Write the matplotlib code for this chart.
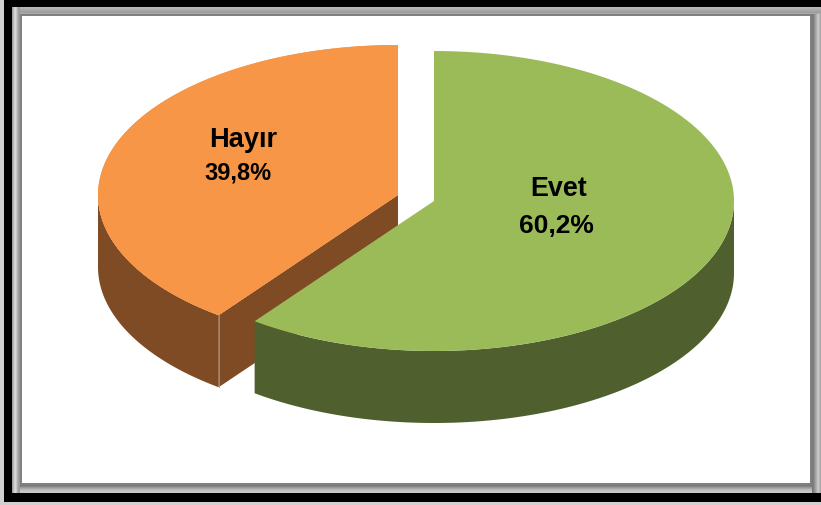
import numpy as np
import matplotlib
matplotlib.use("Agg")
import matplotlib.pyplot as plt
from matplotlib.patches import Rectangle

labels = ["Evet", "Hayır"]
shares = [60.2, 39.8]
value_labels = ["60,2%", "39,8%"]
top_colors = ["#9BBB59", "#F79646"]
side_colors = ["#4F5F2D", "#7F4B24"]

top_band = ["#B8B8B8", "#B4B4B4", "#ACACAC", "#A8A8A8", "#A0A0A0", "#A0A0A0", "#A8A8A8"]
left_band = ["#A0A0A0", "#B8B8B8", "#D0D0D0", "#D8D8D8", "#C8C8C8", "#B0B0B0", "#A0A0A0", "#989898"]
right_band = ["#787878", "#808080", "#909090", "#A0A0A0", "#B0B0B0", "#C0C0C0", "#C8C8C8", "#B8B8B8", "#A8A8A8"]
bottom_band = ["#787878", "#888888", "#989898", "#A8A8A8", "#B8B8B8", "#C0C0C0", "#C8C8C8", "#C8C8C8"]

RX, RY, DEPTH = 300, 150, 72


def ring(cx, cy, start, stop, dy=0):
    a = np.radians(np.linspace(start, stop, 200))
    return cx + RX * np.cos(a), cy - RY * np.sin(a) + dy


def draw_slice(ax, cx, cy, start, stop, wall_start, wall_stop, top, side):
    x, y = ring(cx, cy, wall_start, wall_stop)
    x2, y2 = ring(cx, cy, wall_start, wall_stop, DEPTH)
    ax.fill(np.r_[x, x2[::-1]], np.r_[y, y2[::-1]], color=side, lw=0, zorder=2)
    x, y = ring(cx, cy, start, stop)
    ax.fill(np.r_[cx, x], np.r_[cy, y], color=top, lw=0, zorder=4)


fig = plt.figure(figsize=(8.21, 5.06), dpi=100)
ax = fig.add_axes([0, 0, 1, 1])
ax.set_xlim(0, 821)
ax.set_ylim(506, 0)
ax.axis("off")

# frame
ax.add_patch(Rectangle((0, 0), 821, 506, color="#D0D0D0", lw=0))
ax.add_patch(Rectangle((4, 0), 817, 503, color="black", lw=0))
ax.add_patch(Rectangle((12, 8), 809, 486, color="#A8A8A8", lw=0))
for i, c in enumerate(top_band):
    ax.add_patch(Rectangle((12, 8 + i), 809, 1, color=c, lw=0))
for i, c in enumerate(bottom_band):
    ax.add_patch(Rectangle((12, 486 + i), 809, 1, color=c, lw=0))
for i, c in enumerate(left_band):
    ax.add_patch(Rectangle((12 + i, 8), 1, 486, color=c, lw=0))
for i, c in enumerate(right_band):
    ax.add_patch(Rectangle((812 + i, 15), 1, 479, color=c, lw=0))
ax.add_patch(Rectangle((20, 15), 792, 471, color="#808080", lw=0))
ax.add_patch(Rectangle((22, 17), 788, 467, color="white", lw=0))

evet_cx, evet_cy = 434, 202
hayir_cx, hayir_cy = 398, 196
evet_end = 90 - shares[0] / 100 * 360
hayir_end = 90 + shares[1] / 100 * 360

draw_slice(ax, hayir_cx, hayir_cy, 90, hayir_end, 180, hayir_end, top_colors[1], side_colors[1])

# inner cut face of the orange slice, the green slice covers most of it
end = np.radians(hayir_end)
ex, ey = hayir_cx + RX * np.cos(end), hayir_cy - RY * np.sin(end)
ax.fill([hayir_cx, ex, ex, hayir_cx], [hayir_cy, ey, ey + DEPTH, hayir_cy + DEPTH],
        color=side_colors[1], lw=0, zorder=2)
ax.plot([ex, ex], [ey, ey + DEPTH], color="#B08F78", lw=0.6, zorder=3)
x, y = ring(hayir_cx, hayir_cy, 90, hayir_end)
ax.fill(np.r_[hayir_cx, x], np.r_[hayir_cy, y], color=top_colors[1], lw=0, zorder=3.5)

# green goes on top of everything orange
x, y = ring(evet_cx, evet_cy, evet_end, 0)
x2, y2 = ring(evet_cx, evet_cy, evet_end, 0, DEPTH)
ax.fill(np.r_[x, x2[::-1]], np.r_[y, y2[::-1]], color=side_colors[0], lw=0, zorder=4)
x, y = ring(evet_cx, evet_cy, 90, evet_end)
ax.fill(np.r_[evet_cx, x], np.r_[evet_cy, y], color=top_colors[0], lw=0, zorder=5)

text_style = dict(ha="center", va="baseline", fontweight="bold", family="Liberation Sans",
                  color="black", zorder=6)
ax.text(559, 196, labels[0], fontsize=19.4, **text_style)
ax.text(556, 233, value_labels[0], fontsize=19, **text_style)
ax.text(243, 147, labels[1], fontsize=19.6, **text_style)
ax.text(238, 179, value_labels[1], fontsize=17, **text_style)

fig.savefig("out.png", dpi=100)
